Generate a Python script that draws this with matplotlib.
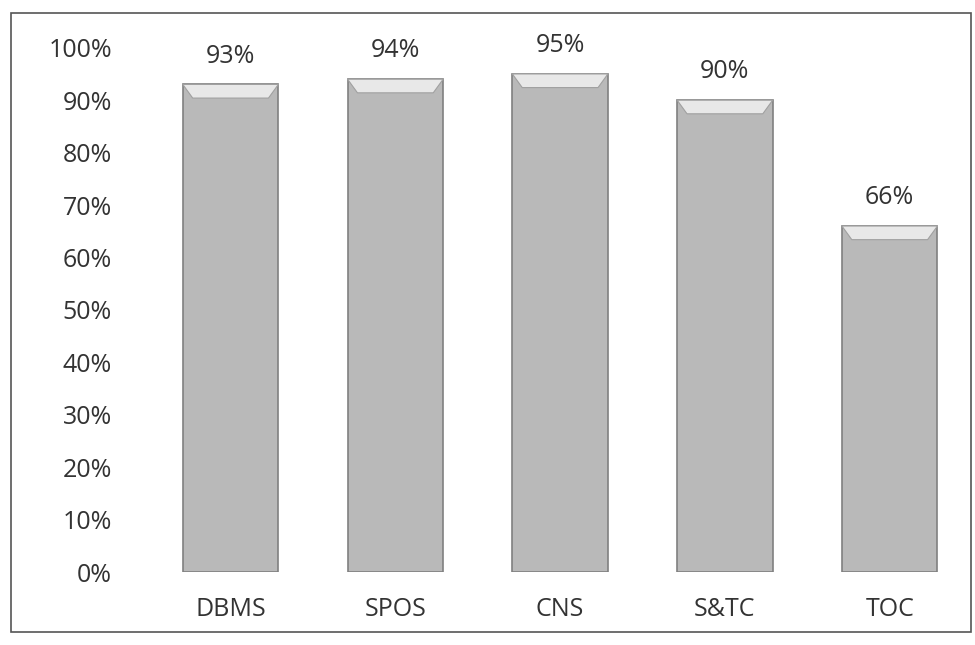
import numpy as np
from matplotlib import pyplot as plt
from matplotlib.patches import Rectangle, Polygon

# data
subjects = ['DBMS', 'SPOS', 'CNS', 'S&TC', 'TOC']
results = [93, 94, 95, 90, 66]
y_ticks = [0, 10, 20, 30, 40, 50, 60, 70, 80, 90, 100]

plt.rcParams['font.family'] = ['Open Sans', 'DejaVu Sans']

fig = plt.figure(figsize=(9.75, 6.45), dpi=100)
# outer frame of the chart area
fig.patches.append(Rectangle((0.011, 0.02), 0.985, 0.96, transform=fig.transFigure,
                             fill=False, edgecolor='#555555', linewidth=1.2))

ax = fig.add_axes([0.152, 0.113, 0.845, 0.813])
x = np.arange(len(subjects))
bar_w = 0.58
bars = ax.bar(x, results, width=bar_w, color='#b9b9b9', edgecolor='#808080',
              linewidth=1.2, zorder=2)

# light bevel at the top of each bar
for b in bars:
    x0 = b.get_x()
    w = b.get_width()
    h = b.get_height()
    d = 0.06
    ax.add_patch(Polygon([(x0, h), (x0 + w, h), (x0 + w - d, h - 2.6), (x0 + d, h - 2.6)],
                         closed=True, facecolor='#e8e8e8', edgecolor='#a0a0a0',
                         linewidth=0.8, zorder=3))
    ax.text(b.get_x() + w / 2, h + 3.0, '%d%%' % h, ha='center', va='bottom',
            fontsize=18, color='#333333')

ax.set_ylim(0, 100)
ax.set_xlim(-0.5, 4.5)
ax.set_yticks(y_ticks)
ax.set_yticklabels(['%d%%' % t for t in y_ticks], fontsize=18, color='#333333')
ax.set_xticks(x)
ax.set_xticklabels(subjects, fontsize=18, color='#333333')
ax.tick_params(axis='both', length=0)
ax.tick_params(axis='x', pad=18)
ax.tick_params(axis='y', pad=26)
for s in ax.spines.values():
    s.set_visible(False)

plt.savefig('out.png', dpi=100)
